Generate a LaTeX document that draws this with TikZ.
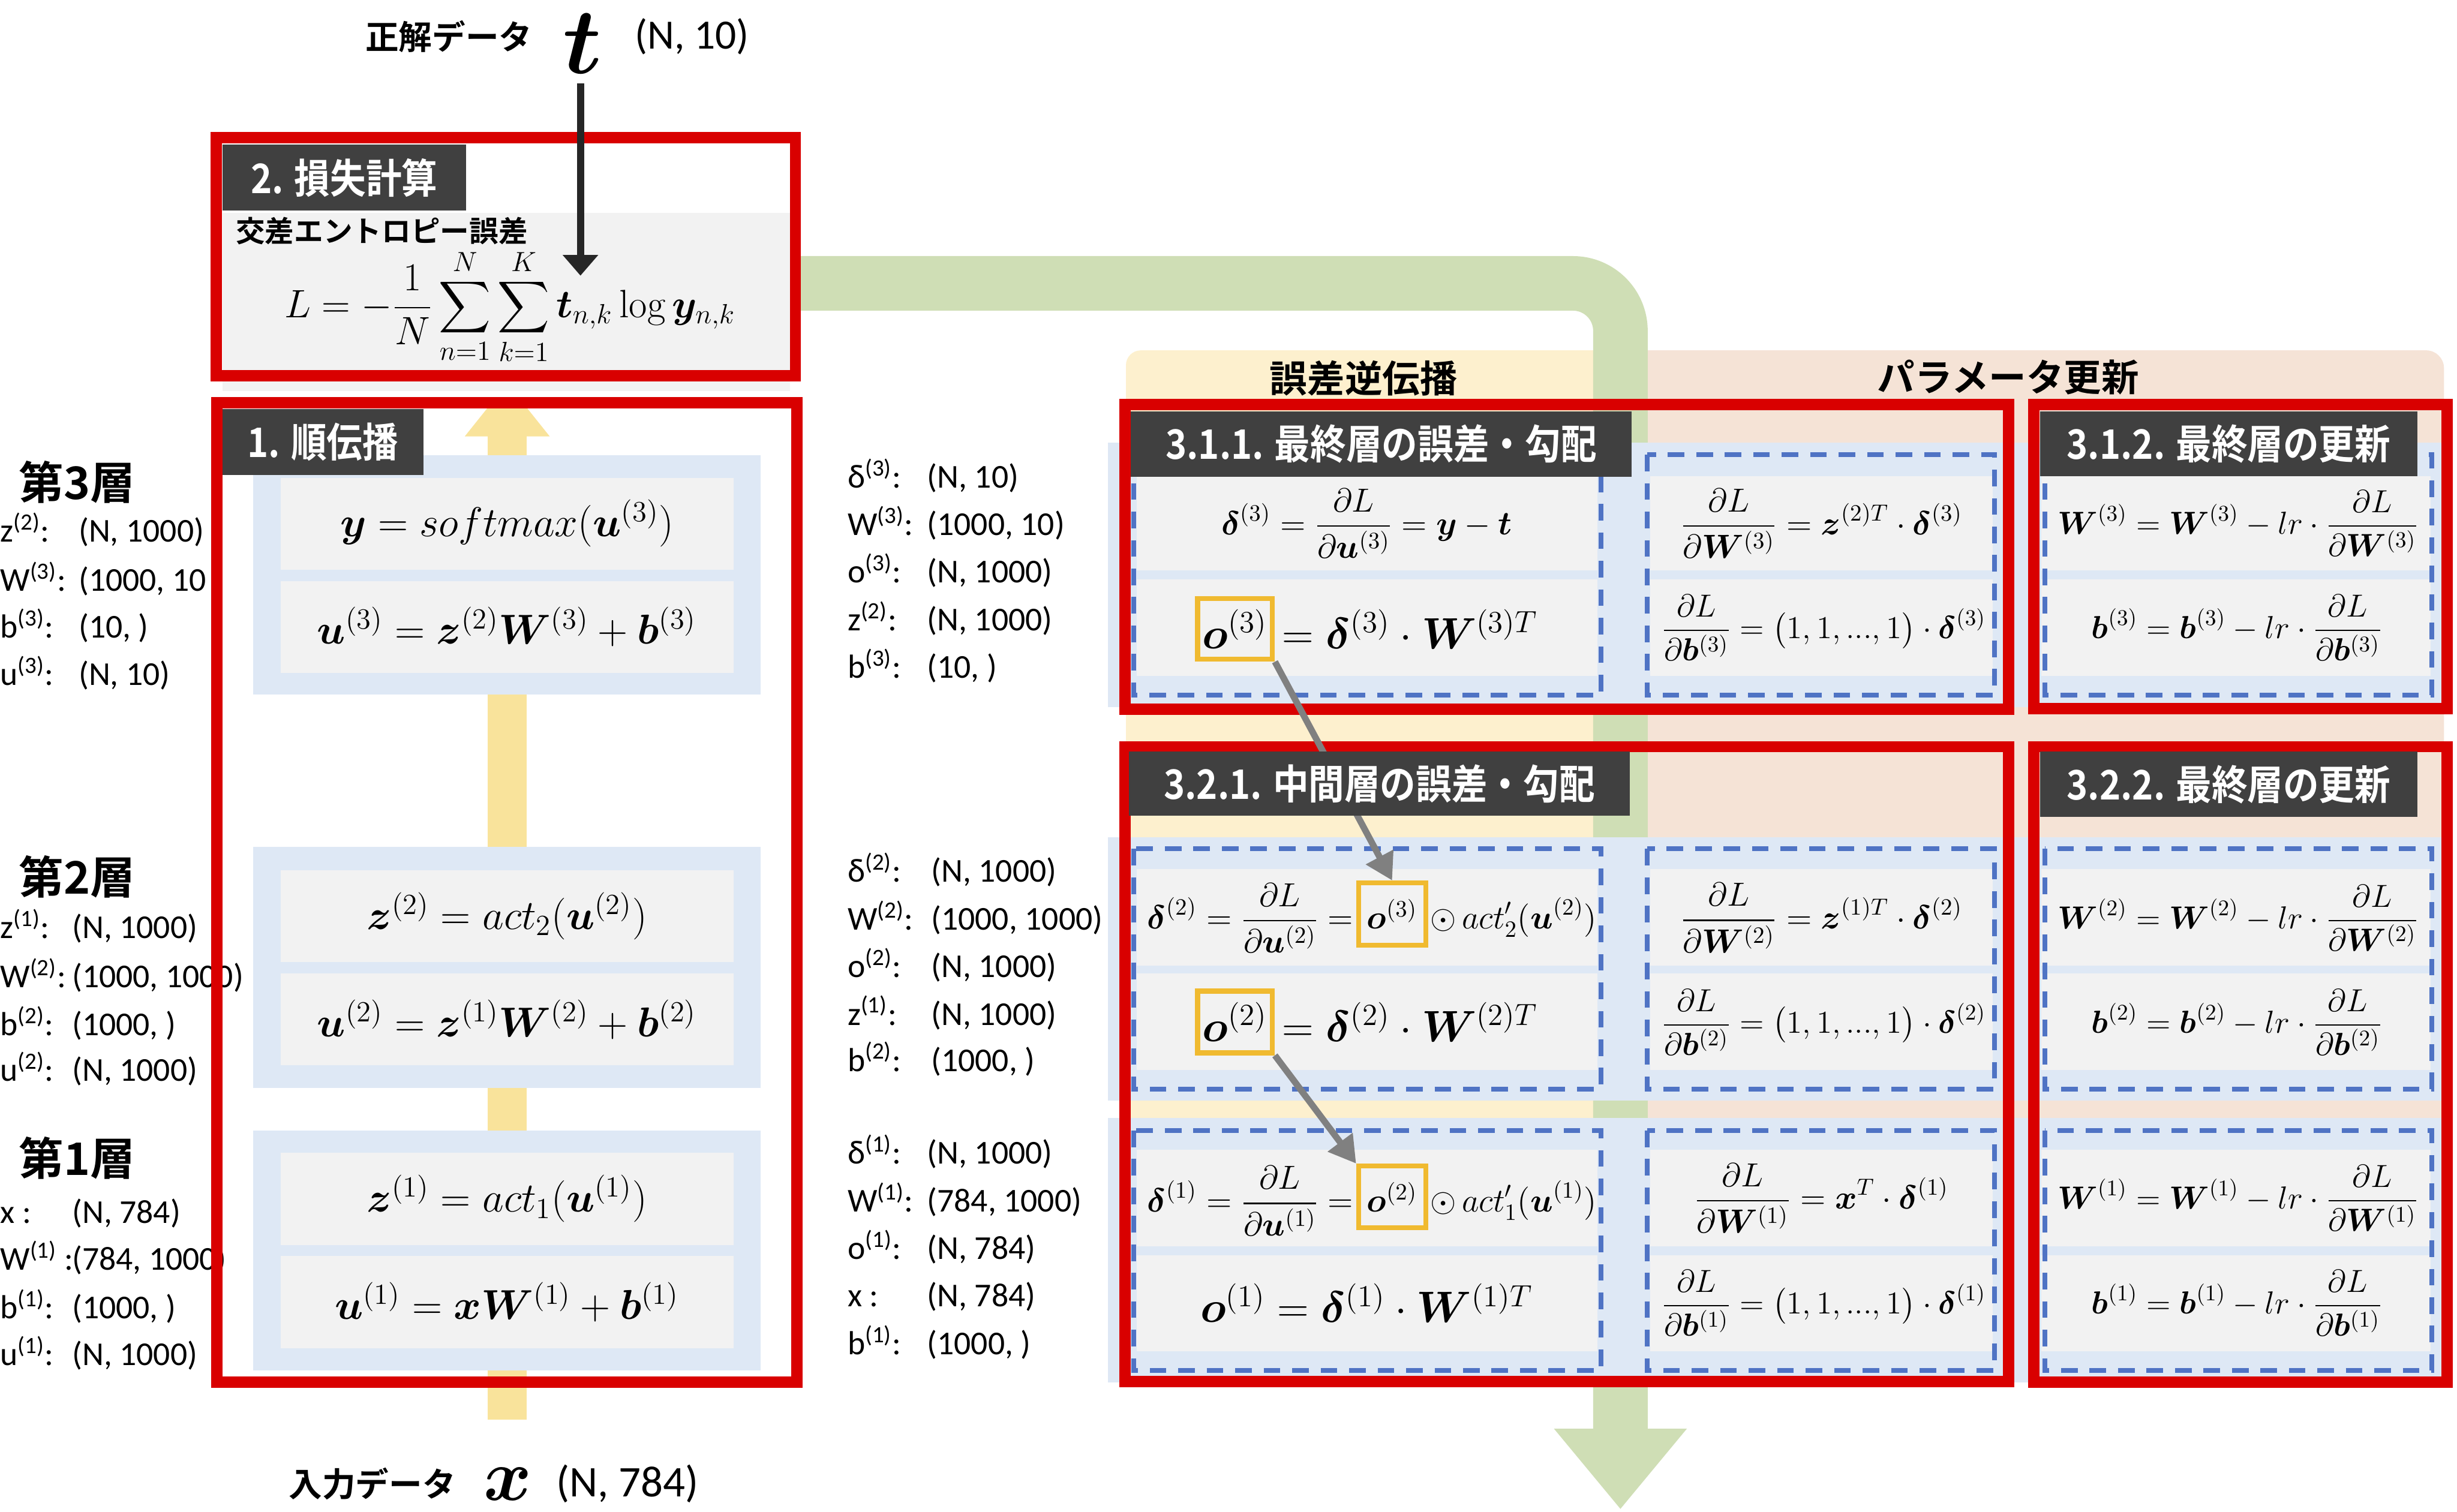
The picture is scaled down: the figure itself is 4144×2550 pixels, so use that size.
\RequirePackage{fix-cm}
\documentclass[tikz,border=0pt]{standalone}
\usepackage{amsmath,bm}
\usepackage{fontspec}
\newfontfamily\jp{Noto Sans CJK JP}[BoldFont={* Bold}]
\newfontfamily\jpnarrow{Noto Sans CJK JP}[BoldFont={* Bold}, FakeStretch=0.88]
\newfontfamily\dimfont{Carlito}
\usetikzlibrary{arrows.meta}
\definecolor{boxred}{RGB}{217,0,0}
\definecolor{tagdark}{RGB}{64,64,64}
\definecolor{panelblue}{RGB}{222,232,245}
\definecolor{cellgray}{RGB}{242,242,242}
\definecolor{bpyellow}{RGB}{253,240,206}
\definecolor{updpeach}{RGB}{245,227,214}
\definecolor{flowgreen}{RGB}{207,222,181}
\definecolor{fwdyellow}{RGB}{249,227,155}
\definecolor{hlorange}{RGB}{240,186,48}
\definecolor{dashblue}{RGB}{79,115,196}
\definecolor{linkgray}{RGB}{128,128,128}

\begin{document}
\begin{tikzpicture}[
  x=0.01cm, y=-0.01cm,
  redbox/.style={draw=boxred, line width=5.4pt},
  tag/.style={fill=tagdark, text=white, inner sep=0pt,
              font=\jpnarrow\bfseries\fontsize{19.5}{23}\selectfont},
  dimtext/.style={inner sep=0pt, anchor=base west,
                  font=\dimfont\fontsize{16}{19}\selectfont},
  layer/.style={inner sep=0pt, anchor=west,
                font=\jp\bfseries\fontsize{21.5}{25}\selectfont},
  head/.style={inner sep=0pt, font=\jp\bfseries\fontsize{18}{21}\selectfont},
  fwdmath/.style={inner sep=0pt, font=\fontsize{20}{24}\selectfont},
  bpmath/.style={inner sep=0pt, font=\fontsize{16}{19}\selectfont},
  updmath/.style={inner sep=0pt, font=\fontsize{15.3}{18}\selectfont},
  omath/.style={inner sep=0pt, font=\fontsize{21}{25}\selectfont},
  hlbox/.style={draw=hlorange, line width=2.4pt},
  dashbox/.style={draw=dashblue, line width=2.3pt, dash pattern=on 0.28cm off 0.2cm},
  link/.style={draw=linkgray, line width=3.1pt, -{Triangle[length=0.45cm,width=0.5cm]}}
]
  \useasboundingbox (0,0) rectangle (4144,2550);

  % Backgrounds of the back-propagation side
  \fill[bpyellow, rounded corners=0.25cm] (1899,591) rectangle (2733,2320);
  \fill[updpeach, rounded corners=0.3cm] (2733,591) rectangle (4122,2320);

  % Flow of the loss into back-propagation
  \coordinate (gsrc)  at (1340,478);
  \coordinate (gturn) at (2733,478);
  \coordinate (gdst)  at (2733,2546);
  \draw[flowgreen, line width=0.92cm, rounded corners=0.8cm,
        -{Triangle[length=1.36cm,width=2.15cm]}] (gsrc) -- (gturn) -- (gdst);

  % Forward flow
  \coordinate (ftail) at (855.5,2395);
  \coordinate (fhead) at (855.5,646);
  \begin{scope}
    \clip (0,680) rectangle (1400,2550);
    \draw[fwdyellow, line width=0.65cm,
          -{Triangle[length=0.9cm,width=1.37cm]}] (ftail) -- (fhead);
  \end{scope}

  % Panels
  \fill[cellgray] (375,359) rectangle (1332,660);
  \foreach \ya/\yb in {768/1172, 1429/1835, 1907/2312}
    \fill[panelblue] (427,\ya) rectangle (1283,\yb);
  \foreach \ya/\yb in {806/961, 980/1135, 1468/1623, 1642/1797, 1944/2100, 2119/2274}
    \fill[cellgray] (473,\ya) rectangle (1237,\yb);
  \foreach \ya/\yb in {747/1193, 1412/1856, 1886/2332}
    \fill[panelblue] (1869,\ya) rectangle (4120,\yb);
  \foreach \xa/\xb in {1917/2694, 2783/3361, 3443/4099}
    \foreach \ya/\yb in {803/962, 977/1140, 1466/1629, 1642/1805, 1939/2102, 2117/2279}
      \fill[cellgray] (\xa,\ya) rectangle (\xb,\yb);
  \foreach \xa/\xb in {1912/2700, 2778/3364, 3449/4101}
    \foreach \ya/\yb in {767/1173, 1432/1837, 1907/2312}
      \draw[dashbox] (\xa,\ya) rectangle (\xb,\yb);

  % Inputs
  \node[head, font=\jp\bfseries\fontsize{16}{19}\selectfont] (tname) at (757,62) {正解データ};
  \node[inner sep=0pt, font=\fontsize{45}{54}\selectfont] (tvar) at (982,74) {$\bm t$};
  \node[inner sep=0pt, font=\dimfont\fontsize{20}{24}\selectfont] (tdim) at (1167,62) {(N, 10)};
  \node[head, font=\jp\bfseries\fontsize{16}{19}\selectfont] (xname) at (628,2503) {入力データ};
  \node[inner sep=0pt, font=\fontsize{35}{42}\selectfont] (xvar) at (857,2503) {$\bm x$};
  \node[inner sep=0pt, font=\dimfont\fontsize{21}{25}\selectfont] (xdim) at (1058,2503) {(N, 784)};

  % Layer shapes, left
  \node[layer] (lay3) at (31,813) {第3層};
  \node[layer] (lay2) at (31,1479) {第2層};
  \node[layer] (lay1) at (31,1953) {第1層};
  \foreach \yy/\lab/\val [count=\i] in {
      899/{z\textsuperscript{(2)}:}/{(N, 1000)},
      982/{W\textsuperscript{(3)}:}/{(1000, 10},
      1061/{b\textsuperscript{(3)}:}/{(10, )},
      1141/{u\textsuperscript{(3)}:}/{(N, 10)}}{
    \node[dimtext] (fl3lab\i) at (0,\yy+15) {\lab};
    \node[dimtext] (fl3val\i) at (132,\yy+15) {\val};
  }
  \foreach \yy/\lab/\val [count=\i] in {
      1568/{z\textsuperscript{(1)}:}/{(N, 1000)},
      1651/{W\textsuperscript{(2)}:}/{(1000, 1000)},
      1732/{b\textsuperscript{(2)}:}/{(1000, )},
      1809/{u\textsuperscript{(2)}:}/{(N, 1000)}}{
    \node[dimtext] (fl2lab\i) at (0,\yy+15) {\lab};
    \node[dimtext] (fl2val\i) at (121,\yy+15) {\val};
  }
  \foreach \yy/\lab/\val [count=\i] in {
      2048/{x :}/{(N, 784)},
      2127/{W\textsuperscript{(1)} :}/{(784, 1000)},
      2209/{b\textsuperscript{(1)}:}/{(1000, )},
      2288/{u\textsuperscript{(1)}:}/{(N, 1000)}}{
    \node[dimtext] (fl1lab\i) at (0,\yy+15) {\lab};
    \node[dimtext] (fl1val\i) at (121,\yy+15) {\val};
  }

  % Layer shapes, middle
  \foreach \yy/\lab/\val [count=\i] in {
      808/{δ\textsuperscript{(3)}:}/{(N, 10)},
      888/{W\textsuperscript{(3)}:}/{(1000, 10)},
      968/{o\textsuperscript{(3)}:}/{(N, 1000)},
      1049/{z\textsuperscript{(2)}:}/{(N, 1000)},
      1129/{b\textsuperscript{(3)}:}/{(10, )}}{
    \node[dimtext] (bl3lab\i) at (1429,\yy+15) {\lab};
    \node[dimtext] (bl3val\i) at (1563,\yy+15) {\val};
  }
  \foreach \yy/\lab/\val [count=\i] in {
      1473/{δ\textsuperscript{(2)}:}/{(N, 1000)},
      1554/{W\textsuperscript{(2)}:}/{(1000, 1000)},
      1634/{o\textsuperscript{(2)}:}/{(N, 1000)},
      1714/{z\textsuperscript{(1)}:}/{(N, 1000)},
      1792/{b\textsuperscript{(2)}:}/{(1000, )}}{
    \node[dimtext] (bl2lab\i) at (1429,\yy+15) {\lab};
    \node[dimtext] (bl2val\i) at (1570,\yy+15) {\val};
  }
  \foreach \yy/\lab/\val [count=\i] in {
      1948/{δ\textsuperscript{(1)}:}/{(N, 1000)},
      2029/{W\textsuperscript{(1)}:}/{(784, 1000)},
      2109/{o\textsuperscript{(1)}:}/{(N, 784)},
      2189/{x :}/{(N, 784)},
      2270/{b\textsuperscript{(1)}:}/{(1000, )}}{
    \node[dimtext] (bl1lab\i) at (1429,\yy+15) {\lab};
    \node[dimtext] (bl1val\i) at (1563,\yy+15) {\val};
  }

  % Loss
  \node[inner sep=0pt, anchor=west, font=\jp\bfseries\fontsize{14}{17}\selectfont]
    (ce) at (397,390) {交差エントロピー誤差};
  \node[inner sep=0pt, font=\fontsize{19}{23}\selectfont] (loss) at (860,518)
    {$\displaystyle L = -\frac{1}{N}\sum_{n=1}^{N}\sum_{k=1}^{K}\bm t_{n,k}\log \bm y_{n,k}$};

  % Forward formulas
  \node[fwdmath] (fy)  at (855,883)  {$\bm y = softmax(\bm u^{(3)})$};
  \node[fwdmath] (fu3) at (855,1057) {$\bm u^{(3)} = \bm z^{(2)}\bm W^{(3)} + \bm b^{(3)}$};
  \node[fwdmath] (fz2) at (855,1545) {$\bm z^{(2)} = act_2(\bm u^{(2)})$};
  \node[fwdmath] (fu2) at (855,1720) {$\bm u^{(2)} = \bm z^{(1)}\bm W^{(2)} + \bm b^{(2)}$};
  \node[fwdmath] (fz1) at (855,2022) {$\bm z^{(1)} = act_1(\bm u^{(1)})$};
  \node[fwdmath] (fu1) at (855,2196) {$\bm u^{(1)} = \bm x\bm W^{(1)} + \bm b^{(1)}$};

  % Errors
  \node[bpmath] (d3eq) at (2305,883)
    {$\displaystyle \bm\delta^{(3)} = \frac{\partial L}{\partial \bm u^{(3)}} = \bm y - \bm t$};
  \node[hlbox, omath, minimum width=1.26cm, minimum height=1.02cm] (o3top) at (2083,1061) {$\bm o^{(3)}$};
  \node[omath, anchor=base west, inner xsep=0.12cm] (o3eq) at (o3top.base east)
    {$= \bm\delta^{(3)} \cdot \bm W^{(3)T}$};

  \node[hlbox, bpmath, minimum width=1.13cm, minimum height=1.05cm] (o3mid) at (2348,1542) {$\bm o^{(3)}$};
  \node[bpmath, anchor=base east, inner xsep=0.04cm] (d2eqL) at (o3mid.base west)
    {$\displaystyle \bm\delta^{(2)} = \frac{\partial L}{\partial \bm u^{(2)}} =$};
  \node[bpmath, anchor=base west, inner xsep=0.03cm] (d2eqR) at (o3mid.base east)
    {$\displaystyle \odot\, act'_2(\bm u^{(2)})$};
  \node[hlbox, omath, minimum width=1.26cm, minimum height=1.04cm] (o2mid) at (2083,1724) {$\bm o^{(2)}$};
  \node[omath, anchor=base west, inner xsep=0.12cm] (o2eq) at (o2mid.base east)
    {$= \bm\delta^{(2)} \cdot \bm W^{(2)T}$};

  \node[hlbox, bpmath, minimum width=1.13cm, minimum height=1.04cm] (o2bot) at (2348,2019) {$\bm o^{(2)}$};
  \node[bpmath, anchor=base east, inner xsep=0.04cm] (d1eqL) at (o2bot.base west)
    {$\displaystyle \bm\delta^{(1)} = \frac{\partial L}{\partial \bm u^{(1)}} =$};
  \node[bpmath, anchor=base west, inner xsep=0.03cm] (d1eqR) at (o2bot.base east)
    {$\displaystyle \odot\, act'_1(\bm u^{(1)})$};
  \node[omath] (o1eq) at (2305,2198) {$\bm o^{(1)} = \bm\delta^{(1)} \cdot \bm W^{(1)T}$};

  % Gradients and updates
  \foreach \l/\yw/\yb/\inp in {3/883/1059/{\bm z^{(2)T}}, 2/1548/1724/{\bm z^{(1)T}}, 1/2021/2198/{\bm x^{T}}}{
    \node[bpmath] (gw\l) at (3072,\yw)
      {$\displaystyle \frac{\partial L}{\partial \bm W^{(\l)}} = \inp \cdot \bm\delta^{(\l)}$};
    \node[updmath] (gb\l) at (3076,\yb)
      {$\displaystyle \frac{\partial L}{\partial \bm b^{(\l)}} = \bigl(1,1,...,1\bigr) \cdot \bm\delta^{(\l)}$};
    \node[updmath] (uw\l) at (3775,\yw)
      {$\displaystyle \bm W^{(\l)} = \bm W^{(\l)} - lr\cdot\frac{\partial L}{\partial \bm W^{(\l)}}$};
    \node[updmath] (ub\l) at (3773,\yb)
      {$\displaystyle \bm b^{(\l)} = \bm b^{(\l)} - lr\cdot\frac{\partial L}{\partial \bm b^{(\l)}}$};
  }

  % Frames
  \draw[redbox] (364.5,232.5) rectangle (1341.5,633.5);
  \draw[redbox] (366,679.5) rectangle (1344,2331.5);
  \draw[redbox] (1897.5,682.5) rectangle (3387.5,1196.5);
  \draw[redbox] (3430.5,682.5) rectangle (4127.5,1195.5);
  \draw[redbox] (1897.5,1259.5) rectangle (3387.5,2330.5);
  \draw[redbox] (3430.5,1259.5) rectangle (4127.5,2331.5);

  % Connectors
  \coordinate (tend) at (979,465);
  \draw[draw={black!85}, line width=3.4pt, shorten <=0.16cm,
        -{Triangle[length=0.35cm,width=0.58cm]}] (tend |- tvar.south) -- (tend);
  \draw[link] (o3top.south east) -- (o3mid.north);
  \draw[link] (o2mid.south east) -- (o2bot.north west);

  % Titles
  \node[head] (bphead)  at (2300,638) {誤差逆伝播};
  \node[head] (updhead) at (3387,636) {パラメータ更新};
  \node[tag, minimum width=4.11cm, minimum height=1.11cm] (tag2)   at (580.5,299.5) {2. 損失計算};
  \node[tag, minimum width=3.39cm, minimum height=1.11cm] (tag1)   at (544.5,745.5) {1. 順伝播};
  \node[tag, minimum width=8.45cm, minimum height=1.10cm] (tag311) at (2329.5,749) {3.1.1. 最終層の誤差・勾配};
  \node[tag, minimum width=6.36cm, minimum height=1.09cm] (tag312) at (3759,748.5) {3.1.2. 最終層の更新};
  \node[tag, minimum width=8.45cm, minimum height=1.08cm] (tag321) at (2326.5,1322) {3.2.1. 中間層の誤差・勾配};
  \node[tag, minimum width=6.36cm, minimum height=1.10cm] (tag322) at (3759,1323) {3.2.2. 最終層の更新};
\end{tikzpicture}
\end{document}
